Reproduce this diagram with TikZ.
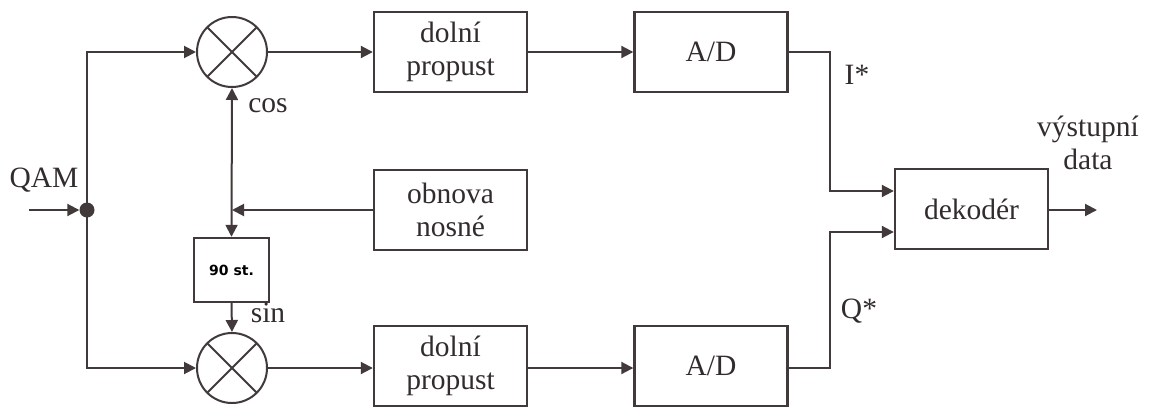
\documentclass[tikz,border=0pt]{standalone}
\usepackage{fontspec}
\setmainfont{Liberation Serif}
\newfontfamily\labelsans{DejaVu Sans}
\usetikzlibrary{arrows.meta,calc}
\definecolor{ink}{RGB}{66,58,58}
\definecolor{txt}{RGB}{50,44,44}
\begin{document}
\begin{tikzpicture}[x=1pt,y=-1pt,
  every node/.style={text=txt},
  line/.style={draw=ink,line width=2pt},
  tip/.tip={Triangle[length=12pt,width=12pt]},
  arr/.style={line,-tip},
  dblarr/.style={line,tip-tip},
  blockbox/.style={draw=ink,line width=2.4pt,minimum width=153pt,minimum height=80pt,
     align=center,font=\fontsize{29.5}{33}\selectfont,inner sep=0pt},
  mixer/.style={draw=ink,line width=2pt,circle,minimum size=70pt,inner sep=0pt,
     path picture={\draw[ink,line width=2pt]
       (path picture bounding box.south west) -- (path picture bounding box.north east)
       (path picture bounding box.north west) -- (path picture bounding box.south east);}},
  lbl/.style={font=\fontsize{29.5}{33}\selectfont,inner sep=0pt}
]
\useasboundingbox (0,0) rectangle (1150,407);

% splitting point of the received signal
\node[circle,fill=ink,minimum size=15pt,inner sep=0pt] (dot) at (87,210) {};
\coordinate (in) at (29,210);

% mixers
\node[mixer] (m1) at (232,52) {};
\node[mixer] (m2) at (232,368) {};

% processing blocks
\node[blockbox] (lp1) at (450.5,52) {dolní\\propust};
\node[blockbox] (lp2) at (450.5,366) {dolní\\propust};
\node[blockbox] (ad1) at (711,52) {A/D};
\node[blockbox] (ad2) at (711,366) {A/D};
\node[blockbox] (obn) at (450.5,210) {obnova\\nosné};
\node[blockbox] (dec) at (971.5,209) {dekodér};
\node[draw=ink,line width=2.4pt,minimum width=75pt,minimum height=64pt,inner sep=0pt,
      text=black,font=\labelsans\bfseries\fontsize{14}{16}\selectfont] (ph) at (231.5,270) {90 st.};

\coordinate (j) at (232,210);
\coordinate (ki) at (830,191);
\coordinate (kq) at (830,232);
\coordinate (out) at (1097,210);

% signal paths
\draw[arr] (in) -- (dot);
\draw[arr] (dot.center) |- (m1.west);
\draw[arr] (dot.center) |- (m2.west);
\draw[arr] (m1.east) -- (lp1.west);
\draw[arr] (m2.east) -- (lp2.west |- m2.east);
\draw[arr] (lp1.east) -- (ad1.west);
\draw[arr] (lp2.east |- m2.east) -- (ad2.west |- m2.east);
\draw[arr] (obn.west) -- (j);
\draw[dblarr] (m1.south) -- (ph.north);
\draw[arr] (ph.south) -- (m2.north);
\draw[arr] (ad1.east) -| (ki) -- (ki -| dec.west);
\draw[arr] (ad2.east |- m2.east) -| (kq) -- (kq -| dec.west);
\draw[arr] (dec.east |- out) -- (out);

% labels
\node[lbl] at (44,180) {QAM};
\node[lbl] at (268,106) {cos};
\node[lbl] at (268,313) {sin};
\node[lbl] at (857,75) {I*};
\node[lbl] at (859,311) {Q*};
\node[lbl,align=center] at (1088,143) {výstupní\\data};
\end{tikzpicture}
\end{document}
